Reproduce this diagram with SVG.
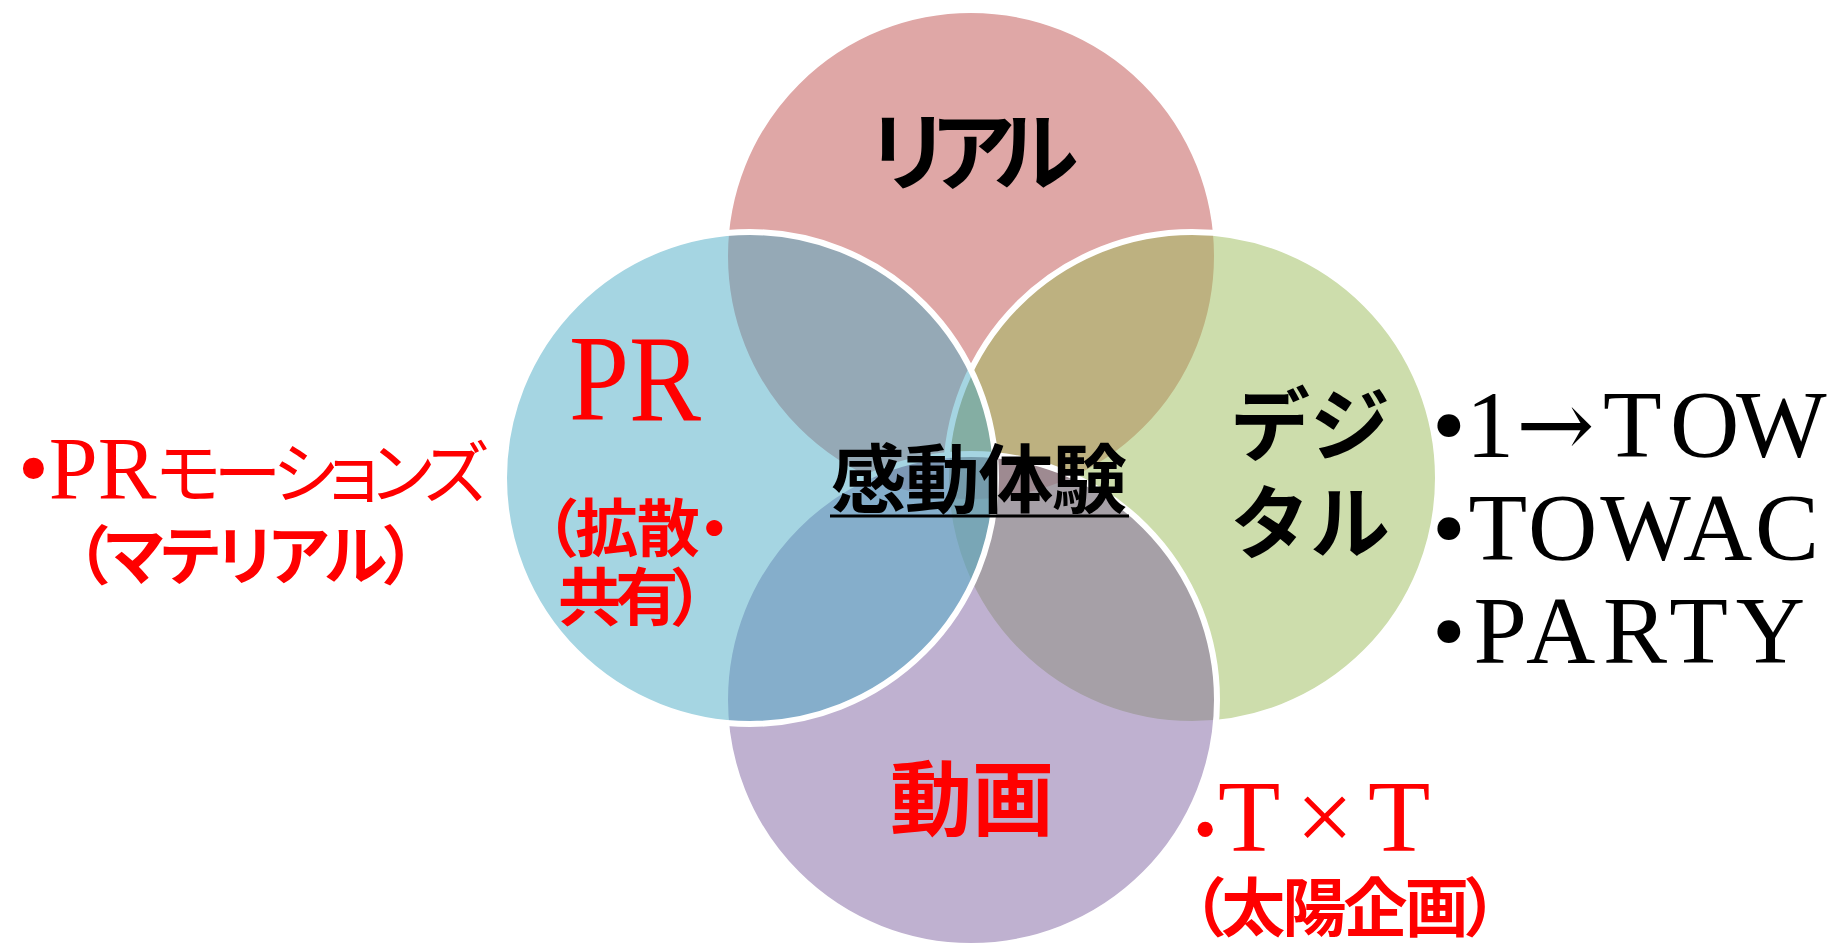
<svg xmlns="http://www.w3.org/2000/svg" width="1836" height="944" viewBox="0 0 1836 944">
<style>
.c{fill-opacity:0.5;stroke:#fff;stroke-width:6}
.t{font-family:"Liberation Serif","Noto Sans CJK JP",serif}
.red{fill:#FF0000}
.blk{fill:#000}
.b{font-weight:bold}
.palt{font-feature-settings:"palt"}
</style>
<rect width="1836" height="944" fill="#fff"/>
<g id="node-real">
<circle class="c" cx="971" cy="256" r="246" fill="#C0504D"/>
<text class="t blk b" x="972" y="184" font-size="86" text-anchor="middle" textLength="214" lengthAdjust="spacing">リアル</text>
</g>
<g id="node-digital">
<circle class="c" cx="1192" cy="478" r="246" fill="#9BBB59"/>
<text class="t blk b" x="1310" y="454" font-size="80" text-anchor="middle">デジ</text>
<text class="t blk b" x="1310" y="552" font-size="80" text-anchor="middle">タル</text>
<text class="t blk" y="457" font-size="96"><tspan x="1432">•</tspan><tspan x="1466">1</tspan><tspan x="1516" font-family="DejaVu Serif" font-size="94">→</tspan><tspan x="1603">T</tspan><tspan x="1670">O</tspan><tspan x="1736">W</tspan></text>
<text class="t blk" x="1432" y="560" font-size="96" textLength="387" lengthAdjust="spacing">•TOWAC</text>
<text class="t blk" x="1432" y="663" font-size="96" textLength="373" lengthAdjust="spacing">•PARTY</text>
</g>
<g id="node-video">
<circle class="c" cx="971" cy="700" r="246" fill="#8064A2"/>
<text class="t red b" x="972" y="829" font-size="82" text-anchor="middle" textLength="164" lengthAdjust="spacing">動画</text>
<text class="t red" y="851" font-size="102"><tspan x="1194" font-size="64">•</tspan><tspan x="1218">T</tspan><tspan x="1296">×</tspan><tspan x="1368">T</tspan></text>
<text class="t red b palt" x="1192" y="931" font-size="64" textLength="306" lengthAdjust="spacing">（太陽企画）</text>
</g>
<g id="node-pr">
<circle class="c" cx="750" cy="478" r="246" fill="#4BACC6"/>
<text class="t red" x="569" y="420" font-size="122" textLength="132" lengthAdjust="spacingAndGlyphs">PR</text>
<text class="t red b palt" x="545" y="551" font-size="63" textLength="185" lengthAdjust="spacing">（拡散・</text>
<text class="t red b palt" x="558" y="620" font-size="63" textLength="146" lengthAdjust="spacing">共有）</text>
<text class="t red palt" x="18" y="498" font-size="68" letter-spacing="-7"><tspan font-size="88" letter-spacing="0">•PR</tspan>モーションズ</text>
<text class="t red b palt" x="76" y="579" font-size="64" textLength="340" lengthAdjust="spacing">（マテリアル）</text>
</g>
<g id="node-center">
<text class="t blk b" x="831" y="507" font-size="75" textLength="296" lengthAdjust="spacing">感動体験</text>
<line x1="830" y1="516" x2="1129" y2="516" stroke="#000" stroke-width="3"/>
</g>
<g id="connectors"></g>
</svg>
